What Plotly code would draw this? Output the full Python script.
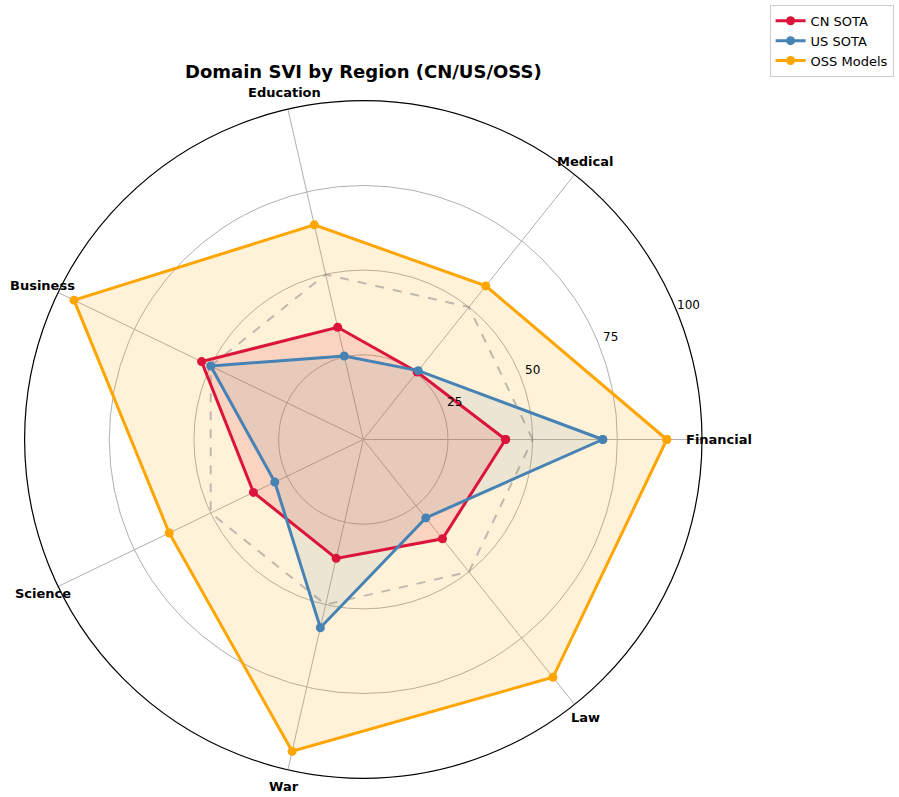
import math

import plotly.graph_objects as go

# ---------- data ----------
categories = ["Financial", "Medical", "Education", "Business", "Science", "War", "Law"]
cn_sota = [42.0, 25.5, 34.0, 53.0, 36.0, 36.0, 37.5]
us_sota = [70.7, 26.0, 25.3, 50.0, 29.0, 57.0, 29.6]
oss_models = [89.6, 58.0, 65.0, 94.8, 63.6, 94.4, 89.8]
parity = [50, 50, 50, 50, 50, 50, 50]
radial_ticks = [25, 50, 75, 100]

FONT = "DejaVu Sans"
W, H = 899, 797
CX, CY, R = 363.3, 439.5, 338.7   # polar centre / radius in px
RMAX = 100


def closed(vals):
    return list(vals) + [vals[0]]


def to_paper(r, deg):
    # polar (data radius, degrees ccw from east) -> paper coords
    px = R * r / RMAX
    x = CX + px * math.cos(math.radians(deg))
    y = CY - px * math.sin(math.radians(deg))
    return x / W, 1 - y / H


theta = closed(categories)

series = [
    ("CN SOTA", cn_sota, "#DC143C", "rgba(220,20,60,0.15)"),
    ("US SOTA", us_sota, "#4682B4", "rgba(70,130,180,0.12)"),
    ("OSS Models", oss_models, "#FFA500", "rgba(255,165,0,0.15)"),
]

fig = go.Figure()

# fills first so they never tint the outlines
for name, vals, color, fill in series:
    fig.add_trace(go.Scatterpolar(
        r=closed(vals), theta=theta, mode="lines",
        line=dict(width=0, color=fill), fill="toself", fillcolor=fill,
        showlegend=False, hoverinfo="skip",
    ))

fig.add_trace(go.Scatterpolar(
    r=closed(parity), theta=theta, mode="lines",
    line=dict(color="rgba(128,128,128,0.5)", width=2, dash="dash"),
    showlegend=False, hoverinfo="skip",
))

for name, vals, color, fill in series:
    fig.add_trace(go.Scatterpolar(
        r=closed(vals), theta=theta, name=name,
        mode="lines+markers",
        line=dict(color=color, width=3),
        marker=dict(color=color, size=9),
    ))

# matplotlib-style labels: categories centred just past the rim,
# radial ticks horizontal along the 22.5 deg spoke
annotations = []
step = 360 / len(categories)
for i, cat in enumerate(categories):
    x, y = to_paper(105, i * step)
    annotations.append(dict(
        x=x, y=y, xref="paper", yref="paper", text=f"<b>{cat}</b>", showarrow=False,
        xanchor="center", yanchor="middle",
        font=dict(family=FONT, size=13, color="black"),
    ))
for v in radial_ticks:
    x, y = to_paper(v + 4, 22.5)
    annotations.append(dict(
        x=x, y=y, xref="paper", yref="paper", text=str(v), showarrow=False,
        xanchor="center", yanchor="middle",
        font=dict(family=FONT, size=12, color="black"),
    ))

fig.update_layout(
    width=W, height=H,
    paper_bgcolor="white",
    margin=dict(l=0, r=0, t=0, b=0),
    font=dict(family=FONT, size=13, color="black"),
    title=dict(
        text="<b>Domain SVI by Region (CN/US/OSS)</b>",
        x=CX / W, xanchor="center", y=1 - 72 / H, yanchor="middle",
        font=dict(family=FONT, size=18, color="black"),
    ),
    polar=dict(
        domain=dict(x=[(CX - R) / W, (CX + R) / W], y=[1 - (CY + R) / H, 1 - (CY - R) / H]),
        bgcolor="white",
        angularaxis=dict(
            rotation=0, direction="counterclockwise",
            showline=True, linecolor="black", linewidth=1.2,
            gridcolor="#b0b0b0", gridwidth=1,
            ticks="", showticklabels=False,
        ),
        radialaxis=dict(
            range=[0, RMAX], tickvals=radial_ticks, angle=22.5,
            showline=False, ticks="", showticklabels=False,
            gridcolor="#b0b0b0", gridwidth=1,
        ),
    ),
    annotations=annotations,
    legend=dict(
        x=0.994, xanchor="right", y=0.994, yanchor="top",
        bgcolor="white", bordercolor="#cccccc", borderwidth=1,
        font=dict(family=FONT, size=13, color="black"),
        tracegroupgap=4,
    ),
)

fig.write_html(
    "out.html",
    config={"displayModeBar": False},
    post_script="document.body.style.margin='0';",
)
